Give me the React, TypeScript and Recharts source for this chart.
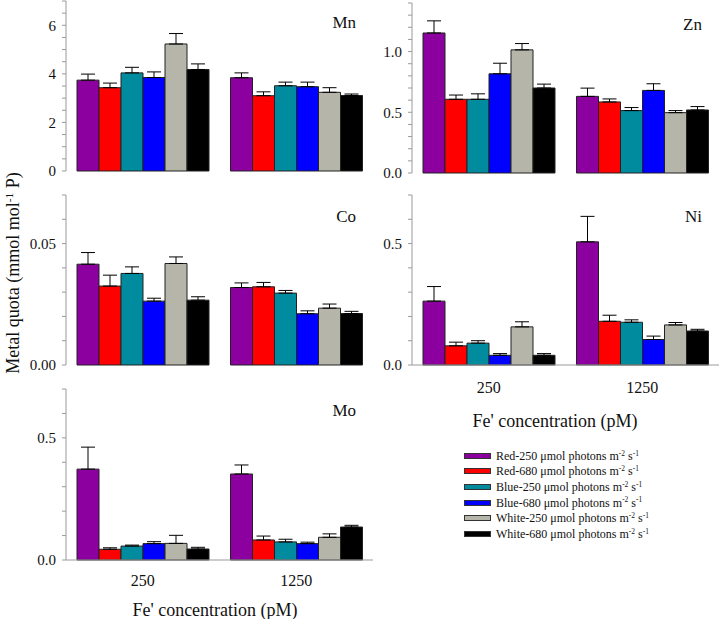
import React from 'react';
import { BarChart, Bar, XAxis, YAxis, ErrorBar } from 'recharts';

// ---------- data ----------
const CONCENTRATIONS = ['250', '1250'];
const TREATMENTS = ['Red-250', 'Red-680', 'Blue-250', 'Blue-680', 'White-250', 'White-680'];
const TREATMENT_COLORS = ['#8c00a0', '#ff0000', '#008c9e', '#0000ff', '#b5b5aa', '#000000'];

// per treatment: [250 pM, 1250 pM]
const MN_MEAN = [[3.74, 3.84], [3.43, 3.10], [4.04, 3.51], [3.85, 3.47], [5.23, 3.24], [4.18, 3.11]];
const MN_ERR = [[0.25, 0.20], [0.19, 0.16], [0.23, 0.15], [0.23, 0.19], [0.43, 0.19], [0.23, 0.06]];
const ZN_MEAN = [[1.153, 0.631], [0.607, 0.585], [0.607, 0.514], [0.817, 0.68], [1.014, 0.497], [0.70, 0.519]];
const ZN_ERR = [[0.10, 0.068], [0.035, 0.025], [0.045, 0.025], [0.087, 0.055], [0.052, 0.017], [0.032, 0.028]];
const CO_MEAN = [[0.0415, 0.0319], [0.0325, 0.0322], [0.0377, 0.0296], [0.0263, 0.0211], [0.0418, 0.0234], [0.0267, 0.0212]];
const CO_ERR = [[0.0048, 0.0019], [0.0045, 0.0018], [0.0027, 0.0011], [0.0012, 0.0012], [0.0027, 0.0017], [0.0014, 0.0009]];
const NI_MEAN = [[0.263, 0.507], [0.079, 0.18], [0.09, 0.176], [0.04, 0.105], [0.157, 0.165], [0.04, 0.14]];
const NI_ERR = [[0.06, 0.105], [0.015, 0.025], [0.01, 0.01], [0.007, 0.014], [0.021, 0.01], [0.007, 0.007]];
const MO_MEAN = [[0.372, 0.352], [0.044, 0.082], [0.057, 0.074], [0.067, 0.067], [0.068, 0.093], [0.045, 0.135]];
const MO_ERR = [[0.09, 0.037], [0.006, 0.016], [0.004, 0.011], [0.008, 0.006], [0.033, 0.014], [0.007, 0.007]];

// ticks (all tick marks) and labelled ticks
const MN_TICKS = [0, 0.5, 1, 1.5, 2, 2.5, 3, 3.5, 4, 4.5, 5, 5.5, 6, 6.5, 7];
const MN_LABELS = [0, 2, 4, 6];
const ZN_TICKS = [0, 0.1, 0.2, 0.3, 0.4, 0.5, 0.6, 0.7, 0.8, 0.9, 1.0, 1.1, 1.2, 1.3, 1.4];
const ZN_LABELS = [0, 0.5, 1.0];
const CO_TICKS = [0, 0.01, 0.02, 0.03, 0.04, 0.05, 0.06, 0.07];
const CO_LABELS = [0, 0.05];
const NI_TICKS = [0, 0.1, 0.2, 0.3, 0.4, 0.5, 0.6, 0.7];
const NI_LABELS = [0, 0.5];
const MO_TICKS = [0, 0.1, 0.2, 0.3, 0.4, 0.5, 0.6, 0.7];
const MO_LABELS = [0, 0.5];

// ---------- styles / layout ----------
const FONT = '"Liberation Serif", "Times New Roman", serif';
const FRAME = '#9a9a9a';
const TEXT = '#111';

const buildRows = (mean: number[][], err: number[][]) =>
  CONCENTRATIONS.map((c, j) => {
    const row: any = { conc: c };
    mean.forEach((m, i) => {
      row['s' + i] = m[j];
      row['e' + i] = [0, err[i][j]];
    });
    return row;
  });

const makeTick = (labels: number[], digits: number) => (props: any) => {
  const { x, y, payload } = props;
  const v = payload.value as number;
  const major = labels.some((l) => Math.abs(l - v) < 1e-9);
  return (
    <g>
      <line x1={x - 4} x2={x} y1={y} y2={y} stroke={FRAME} strokeWidth={1} />
      {major && (
        <text x={x - 10} y={y} dy="0.35em" textAnchor="end" fontSize={15} fontFamily={FONT} fill={TEXT}>
          {v.toFixed(digits)}
        </text>
      )}
    </g>
  );
};

type PanelProps = {
  name: string;
  mean: number[][];
  err: number[][];
  ticks: number[];
  labels: number[];
  digits: number;
  max: number;
  x0: number; y0: number; x1: number; y1: number;
  axisW: number;
  xLabels?: boolean;
  xTickMargin?: number;
};

const Panel = (p: PanelProps) => {
  const mt = 8;
  const mr = 1;
  const mb = 12;
  const xh = p.xLabels ? 40 : 0;
  const left = p.x0 - p.axisW;
  const top = p.y0 - mt;
  const width = p.axisW + (p.x1 - p.x0) + mr;
  const height = mt + (p.y1 - p.y0) + xh + mb;
  const data = buildRows(p.mean, p.err);
  return (
    <>
      <div style={{ position: 'absolute', left, top }}>
        <BarChart
          width={width}
          height={height}
          data={data}
          margin={{ top: mt, right: mr, bottom: mb, left: 0 }}
          barCategoryGap={11}
          barGap={0}
        >
          <XAxis
            dataKey="conc"
            height={xh}
            tickLine={false}
            tickSize={0}
            tickMargin={p.xTickMargin ?? 15}
            stroke={FRAME}
            tick={p.xLabels ? { fontSize: 16, fill: TEXT, fontFamily: FONT } : false}
          />
          <XAxis xAxisId="top" orientation="top" dataKey="conc" height={0} tick={false} tickLine={false} stroke={FRAME} />
          <YAxis
            type="number"
            domain={[0, p.max]}
            ticks={p.ticks}
            interval={0}
            width={p.axisW}
            tickSize={0}
            tickMargin={0}
            tickLine={false}
            stroke={FRAME}
            tick={makeTick(p.labels, p.digits)}
          />
          <YAxis yAxisId="r" orientation="right" width={0} domain={[0, 1]} tick={false} tickLine={false} stroke={FRAME} />
          {TREATMENTS.map((t, i) => (
            <Bar
              key={t}
              dataKey={'s' + i}
              name={t}
              fill={TREATMENT_COLORS[i]}
              stroke="#222"
              strokeWidth={1}
              isAnimationActive={false}
            >
              <ErrorBar dataKey={'e' + i} width={7} stroke="#000" strokeWidth={1} direction="y" isAnimationActive={false} />
            </Bar>
          ))}
        </BarChart>
      </div>
      <div
        style={{
          position: 'absolute',
          left: p.x1 - 17,
          top: p.y0 + 21,
          transform: 'translate(-100%, -50%)',
          fontSize: 17,
          fontFamily: FONT,
          color: TEXT,
          whiteSpace: 'nowrap',
          lineHeight: 1,
        }}
      >
        {p.name}
      </div>
    </>
  );
};

const Sup = ({ children }: { children: React.ReactNode }) => (
  <span style={{ fontSize: '0.62em', position: 'relative', top: '-0.55em' }}>{children}</span>
);

const XTitle = ({ cx, cy }: { cx: number; cy: number }) => (
  <div
    style={{
      position: 'absolute',
      left: cx,
      top: cy,
      transform: 'translate(-50%, -50%)',
      fontSize: 18,
      fontFamily: FONT,
      color: TEXT,
      whiteSpace: 'nowrap',
      lineHeight: 1,
    }}
  >
    Fe' concentration (pM)
  </div>
);

export default function App() {
  return (
    <div style={{ position: 'absolute', left: 0, top: 0, width: 720, height: 619, background: '#fff', overflow: 'hidden' }}>
      <Panel name="Mn" mean={MN_MEAN} err={MN_ERR} ticks={MN_TICKS} labels={MN_LABELS} digits={0} max={7}
        x0={66} y0={1} x1={373} y1={171} axisW={66} />
      <Panel name="Zn" mean={ZN_MEAN} err={ZN_ERR} ticks={ZN_TICKS} labels={ZN_LABELS} digits={1} max={1.4}
        x0={412} y0={3} x1={719} y1={173} axisW={60} />
      <Panel name="Co" mean={CO_MEAN} err={CO_ERR} ticks={CO_TICKS} labels={CO_LABELS} digits={2} max={0.07}
        x0={66} y0={195} x1={373} y1={365} axisW={66} />
      <Panel name="Ni" mean={NI_MEAN} err={NI_ERR} ticks={NI_TICKS} labels={NI_LABELS} digits={1} max={0.7}
        x0={412} y0={195} x1={719} y1={365} axisW={60} xLabels xTickMargin={17} />
      <Panel name="Mo" mean={MO_MEAN} err={MO_ERR} ticks={MO_TICKS} labels={MO_LABELS} digits={1} max={0.7}
        x0={66} y0={389} x1={373} y1={560} axisW={66} xLabels xTickMargin={15} />

      <XTitle cx={555} cy={421} />
      <XTitle cx={215} cy={610} />

      <div
        style={{
          position: 'absolute',
          left: 13,
          top: 273,
          transform: 'translate(-50%, -50%) rotate(-90deg)',
          fontSize: 18,
          fontFamily: FONT,
          color: TEXT,
          whiteSpace: 'nowrap',
          lineHeight: 1,
        }}
      >
        Metal quota (mmol mol<Sup>-1</Sup> P)
      </div>

      {TREATMENTS.map((t, i) => (
        <div
          key={t}
          style={{
            position: 'absolute',
            left: 464,
            top: 455.7 + i * 15.6,
            transform: 'translateY(-50%)',
            display: 'flex',
            alignItems: 'center',
            fontFamily: FONT,
            fontSize: 12,
            color: TEXT,
            whiteSpace: 'nowrap',
            lineHeight: 1,
          }}
        >
          <div style={{ width: 25, height: 4, background: TREATMENT_COLORS[i], border: '1px solid #333', marginRight: 5 }} />
          <span>
            {t} μmol photons m<Sup>-2</Sup> s<Sup>-1</Sup>
          </span>
        </div>
      ))}
    </div>
  );
}
